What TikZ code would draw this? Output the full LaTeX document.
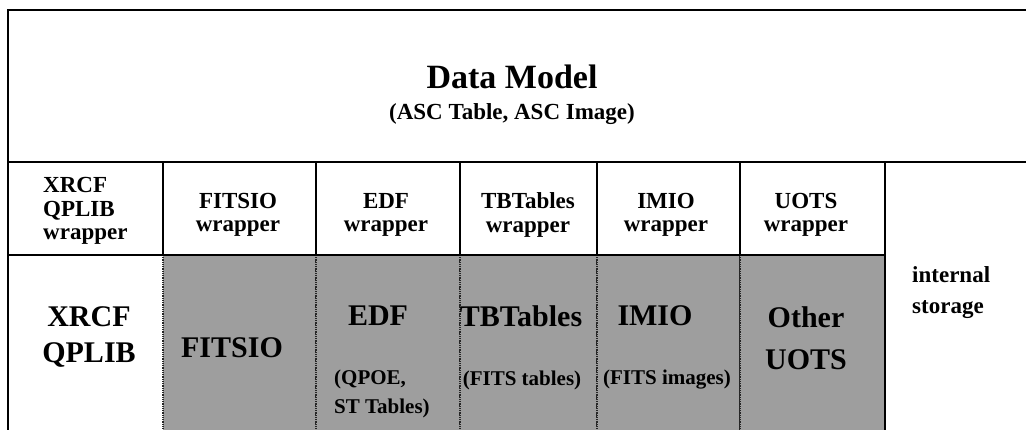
\documentclass[tikz,border=0pt]{standalone}
\usepackage{fontspec}
\setmainfont{Liberation Serif}
\begin{document}
\begin{tikzpicture}[x=1pt,y=-1pt,
  frame/.style={line width=1.4pt,black},
  shaded/.style={fill=black!38,draw=black!85,line width=2.2pt,dash pattern=on 1pt off 0.8pt},
  hdr/.style={font=\fontsize{23}{23.5}\selectfont\bfseries,align=center,inner sep=0pt},
  big/.style={font=\fontsize{30}{36}\selectfont\bfseries,align=center,inner sep=0pt},
  small/.style={font=\fontsize{21}{29}\selectfont\bfseries,align=left,inner sep=0pt},
  side/.style={font=\fontsize{23}{31}\selectfont\bfseries,align=left,inner sep=0pt}]
\useasboundingbox (0,0) rectangle (1026,429);
% shaded storage cells
\path[shaded] (163,255) rectangle (316,432);
\path[shaded] (316,255) rectangle (460,432);
\path[shaded] (460,255) rectangle (597,432);
\path[shaded] (597,255) rectangle (740,432);
\path[shaded] (740,255) rectangle (885,432);
% frame lines
\draw[frame] (1030,10) -- (8,10) -- (8,432);
\draw[frame] (8,162) -- (1030,162);
\draw[frame] (8,255) -- (885,255);
\foreach \x in {163,316,460,597,740}
  \draw[frame] (\x,162) -- (\x,255);
\draw[frame] (885,162) -- (885,432);
% title
\node[font=\fontsize{34}{38}\selectfont\bfseries,inner sep=0pt] (title) at (512,77) {Data Model};
\node[font=\fontsize{23}{26}\selectfont\bfseries,inner sep=0pt] (sub) at (512,114) {(ASC Table, ASC Image)};
% wrapper row
\node[hdr,align=left,anchor=west] (w1) at (43,211) {XRCF\\QPLIB\\wrapper};
\node[hdr] (w2) at (238,215) {FITSIO\\wrapper};
\node[hdr] (w3) at (386,215) {EDF\\wrapper};
\node[hdr] (w4) at (528,215) {TBTables\\wrapper};
\node[hdr] (w5) at (666,215) {IMIO\\wrapper};
\node[hdr] (w6) at (806,215) {UOTS\\wrapper};
% storage row
\node[big] (s1) at (89,337) {XRCF\\QPLIB};
\node[big] (s2) at (232,348) {FITSIO};
\node[big] (s3) at (378,316) {EDF};
\node[small,anchor=west] (s3b) at (334,394) {(QPOE,\\ST Tables)};
\node[big] (s4) at (521,316) {TBTables};
\node[small] (s4b) at (522,380) {(FITS tables)};
\node[big] (s5) at (655,316) {IMIO};
\node[small] (s5b) at (667,380) {(FITS images)};
\node[big,font=\fontsize{30}{42}\selectfont\bfseries] (s6) at (806,338) {Other\\UOTS};
\node[side,anchor=west] (s7) at (912,293) {internal\\storage};
\end{tikzpicture}
\end{document}
